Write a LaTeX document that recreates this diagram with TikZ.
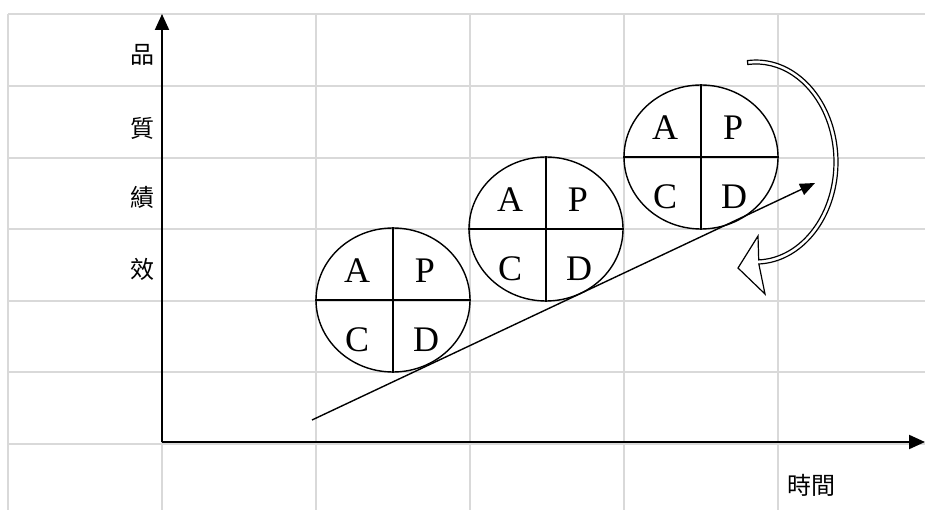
\documentclass[tikz,border=0pt]{standalone}
\usepackage{fontspec}
\setmainfont{Liberation Serif}
\newfontfamily\cjk{Noto Sans CJK TC}
\usetikzlibrary{arrows.meta,shapes.geometric}

\begin{document}
\begin{tikzpicture}[x=1pt, y=-1pt,
    gridline/.style={draw=black!15, line width=1.5pt},
    axis/.style={line width=2pt, -{Triangle[length=16pt,width=14pt]}},
    pdca/.style={ellipse, draw, line width=1.4pt, minimum width=154pt, minimum height=144pt, inner sep=0pt},
    letter/.style={font=\fontsize{36}{36}\selectfont},
    cjklabel/.style={font=\cjk\fontsize{24}{24}\selectfont}]
    \useasboundingbox (0,0) rectangle (925,510);
    % 格線
    \foreach \x in {8,162,316,470,624,778}
        \draw[gridline] (\x,14) -- (\x,510);
    \foreach \y in {14,86,158,229,301,372,444}
        \draw[gridline] (8,\y) -- (925,\y);

    % 座標軸
    \coordinate (origin) at (162,442);
    \coordinate (ytop) at (162,14);
    \coordinate (xend) at (925,442);
    \draw[axis] (origin) -- (ytop);
    \draw[axis] (origin) -- (xend);
    \node[cjklabel] (q1) at (142,55) {品};
    \node[cjklabel] (q2) at (142,128) {質};
    \node[cjklabel] (q3) at (142,197) {績};
    \node[cjklabel] (q4) at (142,269) {效};
    \node[cjklabel] (time) at (811,485) {時間};

    % PDCA 圓
    \foreach \name/\cx/\cy in {c1/393/300, c2/546/229, c3/701/157} {
        \node[pdca] (\name) at (\cx,\cy) {};
        \draw[line width=1.4pt] (\name.west) -- (\name.east);
        \draw[line width=1.4pt] (\name.north) -- (\name.south);
        \node[letter] (\name-a) at (\cx-36,\cy-29) {A};
        \node[letter] (\name-p) at (\cx+32,\cy-29) {P};
        \node[letter] (\name-c) at (\cx-36,\cy+40) {C};
        \node[letter] (\name-d) at (\cx+33,\cy+40) {D};
    }

    % 上升箭頭
    \coordinate (rise0) at (312,420);
    \coordinate (rise1) at (815,183);
    \draw[line width=1.4pt, -{Triangle[length=15pt,width=12pt]}] (rise0) -- (rise1);

    % 迴轉箭頭
    \draw[line width=1.2pt, fill=white] (747.4,60.6)
        arc[start angle=-96, end angle=88, x radius=82, y radius=102]
        -- (765,294) -- (738,268) -- (758,236) -- (758.7,259.9)
        arc[start angle=88, end angle=-96, x radius=78, y radius=98] -- cycle;
\end{tikzpicture}
\end{document}
